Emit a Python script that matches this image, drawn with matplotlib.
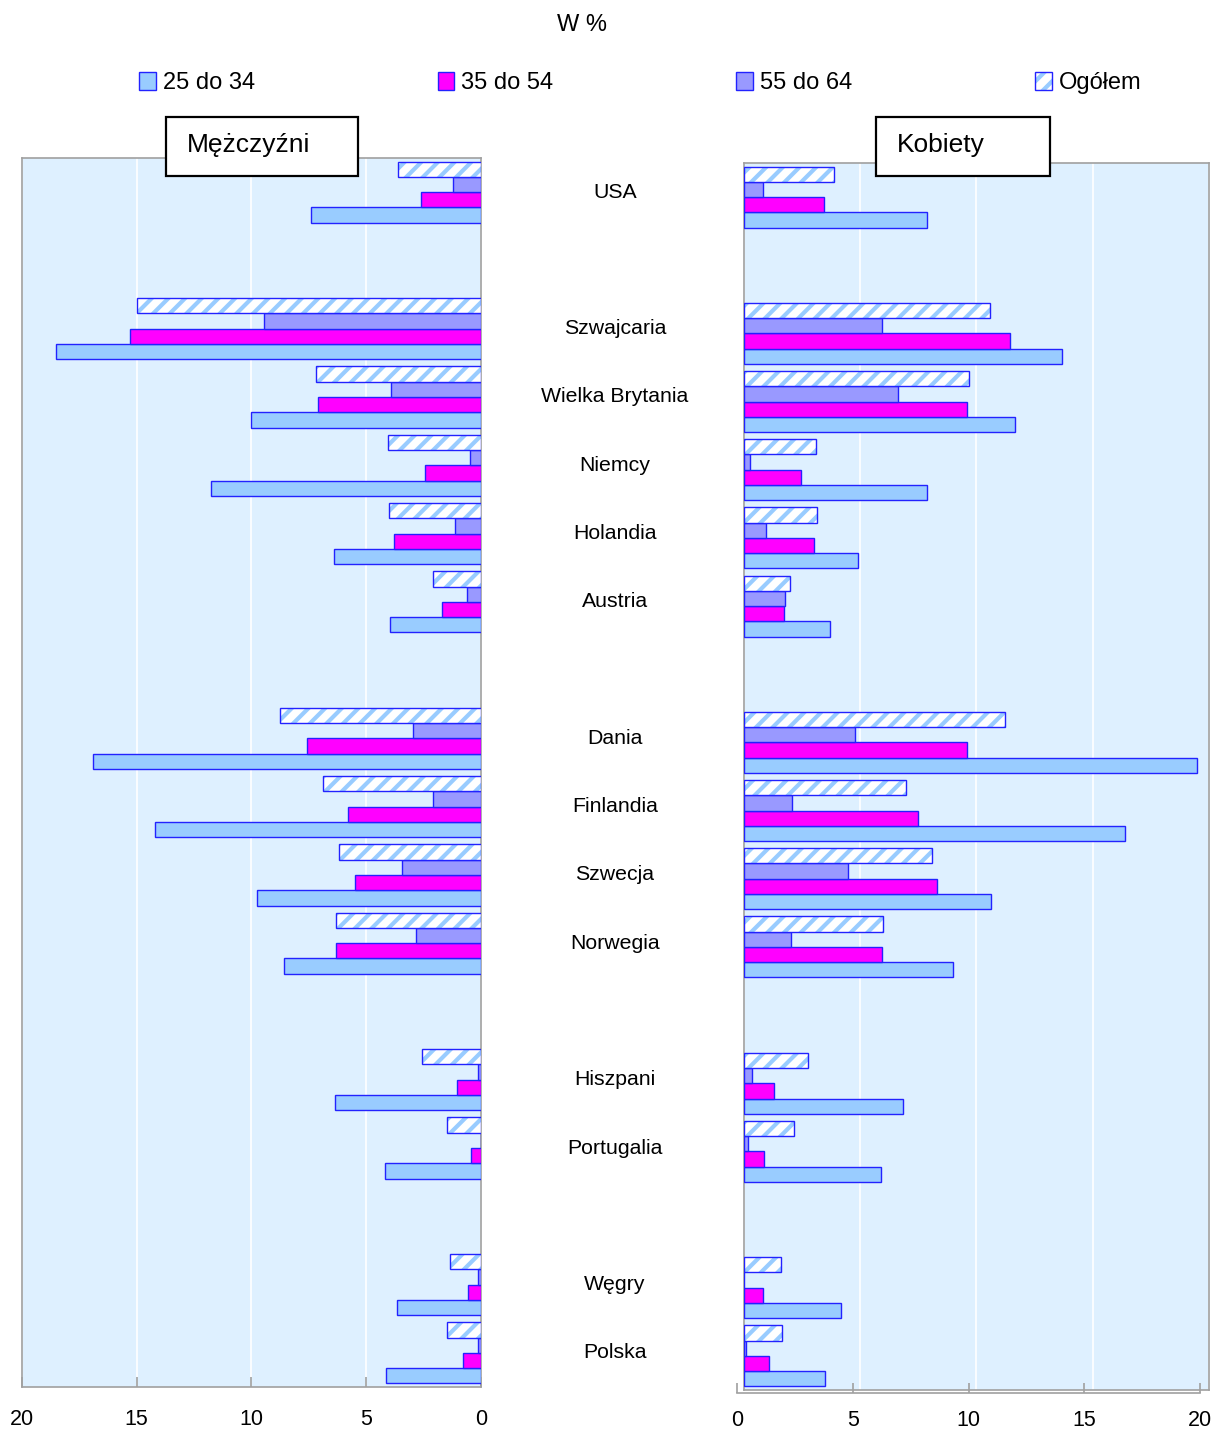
import matplotlib
matplotlib.use("Agg")
import matplotlib.pyplot as plt
from matplotlib.patches import Patch, Rectangle
from matplotlib.legend_handler import HandlerTuple
from matplotlib.transforms import blended_transform_factory
import numpy as np

plt.rcParams['font.family'] = ['Liberation Sans', 'DejaVu Sans']
plt.rcParams['hatch.linewidth'] = 3.0

# data, groups of countries separated by an empty row
groups = [
    ["USA"],
    ["Szwajcaria", "Wielka Brytania", "Niemcy", "Holandia", "Austria"],
    ["Dania", "Finlandia", "Szwecja", "Norwegia"],
    ["Hiszpani", "Portugalia"],
    ["Węgry", "Polska"],
]
series = ["25 do 34", "35 do 54", "55 do 64", "Ogółem"]

# men (Mężczyźni), order of countries as in groups
men_25_34 = [7.4, 18.5, 10.0, 11.75, 6.4, 3.95, 16.9, 14.2, 9.75, 8.6, 6.35, 4.2, 3.65, 4.15]
men_35_54 = [2.6, 15.3, 7.1, 2.45, 3.8, 1.7, 7.6, 5.8, 5.5, 6.3, 1.05, 0.45, 0.55, 0.8]
men_55_64 = [1.2, 9.45, 3.9, 0.5, 1.15, 0.6, 2.95, 2.1, 3.45, 2.85, 0.15, 0.0, 0.15, 0.15]
men_total = [3.6, 15.0, 7.2, 4.05, 4.0, 2.1, 8.75, 6.9, 6.2, 6.3, 2.55, 1.5, 1.35, 1.5]

# women (Kobiety)
wom_25_34 = [7.9, 13.7, 11.65, 7.9, 4.9, 3.7, 19.5, 16.4, 10.65, 9.0, 6.85, 5.9, 4.2, 3.5]
wom_35_54 = [3.45, 11.45, 9.6, 2.45, 3.05, 1.75, 9.6, 7.5, 8.3, 5.95, 1.3, 0.9, 0.85, 1.1]
wom_55_64 = [0.85, 5.95, 6.65, 0.3, 0.95, 1.8, 4.8, 2.1, 4.5, 2.05, 0.35, 0.2, 0.0, 0.1]
wom_total = [3.9, 10.6, 9.7, 3.1, 3.15, 2.0, 11.25, 7.0, 8.1, 6.0, 2.75, 2.15, 1.6, 1.65]

ticks = [0, 5, 10, 15, 20]

c_young = '#99CCFF'
c_mid = '#FF00FF'
c_old = '#9999FF'
c_edge = '#2222FF'
c_bg = '#DEF0FF'
c_spine = '#A0A0A0'

# row positions
countries = []
ypos = []
row = 0
for g in groups:
    for c in g:
        countries.append(c)
        ypos.append(row)
        row += 1
    row += 1
nrows = row - 1
ypos = np.array(ypos, dtype=float)

W, H = 1212, 1430
fig = plt.figure(figsize=(W / 100, H / 100), dpi=100)


def fax(x0, y0, x1, y1):
    return fig.add_axes([x0 / W, 1 - y1 / H, (x1 - x0) / W, (y1 - y0) / H])


axL = fax(22, 158, 481, 1387)
axR = fax(743.5, 163, 1209, 1390)

h = 0.224
offs = {'total': -1.5 * h, 'old': -0.5 * h, 'mid': 0.5 * h, 'young': 1.5 * h}


def draw(ax, young, mid, old, total):
    ax.set_facecolor(c_bg)
    ax.barh(ypos + offs['young'], young, height=h, color=c_young, edgecolor=c_edge, linewidth=1, zorder=3)
    ax.barh(ypos + offs['mid'], mid, height=h, color=c_mid, edgecolor=c_edge, linewidth=1, zorder=3)
    ax.barh(ypos + offs['old'], old, height=h, color=c_old, edgecolor=c_edge, linewidth=1, zorder=3)
    ax.barh(ypos + offs['total'], total, height=h, color='white', edgecolor=c_young,
            hatch='//', linewidth=0, zorder=3)
    ax.barh(ypos + offs['total'], total, height=h, fill=False, edgecolor=c_edge, linewidth=1, zorder=4)
    ax.set_ylim(nrows - 0.5, -0.5)
    ax.set_yticks([])
    ax.set_xticks(ticks)
    ax.grid(axis='x', color='white', linewidth=1.2, zorder=1)
    for s in ax.spines.values():
        s.set_color(c_spine)
        s.set_linewidth(1.2)


draw(axL, men_25_34, men_35_54, men_55_64, men_total)
axL.set_xlim(20, 0)
axL.tick_params(axis='x', direction='in', length=7, color=c_spine, width=1.2,
                labelsize=15.5, pad=16)

draw(axR, wom_25_34, wom_35_54, wom_55_64, wom_total)
axR.set_xlim(0, 20)
axR.tick_params(axis='x', length=0, labelbottom=False)

# separate scale under the women panel
axS = fax(737, 1392.5, 1200, 1393)
axS.set_xlim(0, 20)
axS.set_xticks(ticks)
axS.set_yticks([])
axS.patch.set_visible(False)
for k in ['top', 'left', 'right']:
    axS.spines[k].set_visible(False)
axS.spines['bottom'].set_color(c_spine)
axS.spines['bottom'].set_linewidth(1.2)
axS.tick_params(axis='x', direction='in', length=7, color=c_spine, width=1.2,
                labelsize=15.5, pad=12)

# country labels
tr = blended_transform_factory(fig.transFigure, axL.transData)
for c, y in zip(countries, ypos):
    fig.text(615 / W, y, c, transform=tr, ha='center', va='center', fontsize=15.3)

# title
fig.text(582 / W, 1 - 25 / H, "W %", ha='center', va='center', fontsize=17)

# panel boxes
for (x0, x1, label) in [(166, 358, "Mężczyźni"), (876, 1050, "Kobiety")]:
    fig.patches.append(Rectangle((x0 / W, 1 - 176 / H), (x1 - x0) / W, 59 / H,
                                 transform=fig.transFigure, facecolor='white',
                                 edgecolor='black', linewidth=1.6, zorder=10))
    fig.text((x0 + 21) / W, 1 - 145 / H, label, ha='left', va='center',
             fontsize=19, zorder=11)

# legend
handles = [
    Patch(facecolor=c_young, edgecolor=c_edge, linewidth=1),
    Patch(facecolor=c_mid, edgecolor=c_edge, linewidth=1),
    Patch(facecolor=c_old, edgecolor=c_edge, linewidth=1),
    (Patch(facecolor='white', edgecolor=c_young, hatch='//', linewidth=0),
     Patch(fill=False, edgecolor=c_edge, linewidth=1)),
]
fig.legend(handles, series, loc='center left', bbox_to_anchor=(139 / W, 1 - 83 / H),
           ncol=4, frameon=False, fontsize=17, handlelength=0.7, handleheight=0.8,
           handletextpad=0.3, columnspacing=7.75, borderpad=0, borderaxespad=0,
           handler_map={tuple: HandlerTuple(ndivide=1)})

fig.savefig("out.png", dpi=100)
